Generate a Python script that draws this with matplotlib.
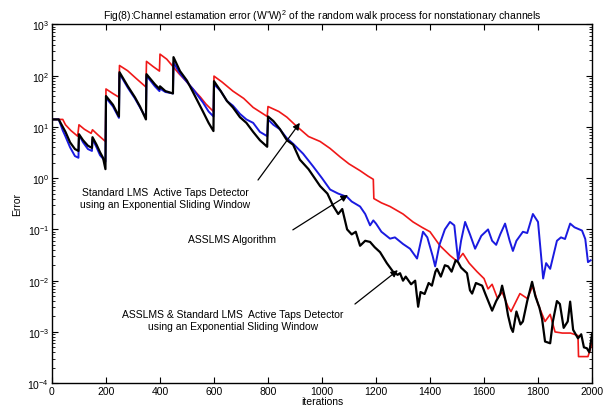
import numpy as np
import matplotlib.pyplot as plt
from matplotlib.ticker import LogLocator, NullFormatter

# Standard LMS active taps detector (exponential sliding window) - red
red_it = [0, 40, 50, 70, 95, 100, 120, 145, 150, 170, 198, 200, 225, 248, 250, 280, 310,
          348, 350, 375, 398, 400, 425, 448, 470, 495, 522, 550, 570, 598, 600, 630, 670,
          710, 745, 797, 800, 840, 870, 900, 918, 950, 993, 1030, 1067, 1100, 1141, 1170,
          1190, 1192, 1220, 1252, 1300, 1337, 1370, 1400, 1437, 1474, 1500, 1522, 1545,
          1574, 1600, 1615, 1630, 1650, 1667, 1689, 1700, 1733, 1760, 1781, 1800, 1826,
          1845, 1863, 1890, 1920, 1948, 1950, 1985, 2000]
red_err = [14, 14, 11, 8.5, 6.6, 11, 9, 7.5, 8.8, 7, 5.2, 55, 45, 38, 158, 125, 90,
           60, 190, 150, 123, 263, 210, 151, 110, 80, 55, 38, 28, 20, 98, 75, 50,
           36, 24, 16, 25, 20, 15.5, 11, 9.1, 6.5, 5.2, 3.8, 2.6, 1.9, 1.4, 1.1,
           0.95, 0.4, 0.33, 0.28, 0.2, 0.14, 0.11, 0.09, 0.048, 0.031, 0.024, 0.034, 0.022,
           0.015, 0.011, 0.0069, 0.0085, 0.0045, 0.006, 0.0031, 0.0025, 0.0056, 0.0045,
           0.0079, 0.0035, 0.0016, 0.0022, 0.001, 0.00095, 0.00095, 0.00085, 0.00033,
           0.00033, 0.0006]

# ASSLMS algorithm - blue
blue_it = [0, 25, 40, 50, 67, 85, 98, 100, 115, 133, 148, 150, 165, 178, 189, 198, 200,
           226, 248, 250, 281, 307, 326, 348, 350, 381, 398, 400, 420, 448, 450, 474, 500,
           522, 559, 580, 598, 600, 625, 648, 670, 696, 720, 745, 770, 797, 800, 820, 844,
           870, 893, 930, 967, 1000, 1030, 1060, 1093, 1110, 1141, 1160, 1178, 1190, 1200,
           1220, 1252, 1270, 1300, 1326, 1352, 1374, 1390, 1410, 1419, 1435, 1455, 1474,
           1490, 1504, 1515, 1530, 1548, 1567, 1590, 1615, 1630, 1645, 1660, 1678, 1695,
           1707, 1720, 1744, 1760, 1781, 1800, 1819, 1830, 1845, 1870, 1885, 1900, 1919,
           1935, 1963, 1975, 1985, 1995]
blue_err = [14, 14, 8.5, 6.5, 4, 2.7, 2.5, 7.0, 5, 3.7, 3.4, 5.8, 4.0, 2.8, 2.4, 2.1, 37,
            25, 15, 110, 58, 36, 24, 15, 100, 62, 50, 56, 48, 45, 180, 110, 75,
            55, 30, 20, 16, 68, 50, 32, 26, 18, 14, 12, 8, 6.6, 14, 11, 9,
            6, 4.7, 3, 1.7, 1.0, 0.6, 0.5, 0.43, 0.35, 0.28, 0.2, 0.12, 0.15, 0.13,
            0.09, 0.066, 0.07, 0.052, 0.042, 0.027, 0.09, 0.07, 0.03, 0.019, 0.05, 0.1, 0.14,
            0.12, 0.025, 0.06, 0.14, 0.08, 0.042, 0.075, 0.1, 0.06, 0.05, 0.08, 0.13, 0.06,
            0.038, 0.06, 0.09, 0.085, 0.2, 0.14, 0.011, 0.022, 0.017, 0.06, 0.07, 0.065, 0.13,
            0.11, 0.095, 0.065, 0.023, 0.025]

# ASSLMS & standard LMS active taps detector - black
black_it = [0, 25, 40, 50, 67, 85, 98, 100, 115, 133, 148, 150, 165, 178, 189, 198, 200,
            226, 248, 250, 281, 307, 326, 348, 350, 381, 398, 400, 420, 448, 450, 474, 500,
            522, 559, 580, 598, 600, 625, 648, 670, 696, 720, 745, 770, 797, 800, 820, 844,
            870, 893, 918, 950, 993, 1020, 1041, 1060, 1075, 1093, 1110, 1125, 1141, 1160,
            1178, 1195, 1215, 1240, 1263, 1280, 1289, 1300, 1310, 1330, 1345, 1356, 1365,
            1380, 1395, 1407, 1420, 1426, 1440, 1455, 1467, 1480, 1495, 1504, 1515, 1537,
            1548, 1556, 1570, 1593, 1605, 1620, 1630, 1645, 1660, 1667, 1680, 1689, 1700,
            1707, 1720, 1735, 1744, 1760, 1778, 1790, 1805, 1815, 1826, 1845, 1855, 1870,
            1881, 1895, 1910, 1919, 1930, 1948, 1960, 1970, 1981, 1990, 2000]
black_err = [14, 14, 10, 8, 5, 3.7, 3.4, 7.2, 5.5, 4.3, 3.9, 6.3, 4.5, 3.2, 2.5, 1.5, 40,
             27, 16, 117, 62, 38, 25, 14, 107, 68, 55, 62, 50, 45, 230, 123, 80,
             48, 20, 12, 8.3, 78, 50, 32, 24, 15.5, 12, 8, 5.5, 4.1, 16, 13, 9.1,
             5.5, 4.5, 2.3, 1.5, 0.7, 0.5, 0.29, 0.2, 0.25, 0.1, 0.08, 0.09, 0.048, 0.06,
             0.057, 0.045, 0.036, 0.022, 0.015, 0.013, 0.014, 0.01, 0.012, 0.0085, 0.01,
             0.0031, 0.006, 0.0055, 0.009, 0.008, 0.015, 0.017, 0.012, 0.02, 0.019, 0.015,
             0.025, 0.023, 0.018, 0.014, 0.0065, 0.0056, 0.009, 0.008, 0.0055, 0.0035, 0.0026,
             0.004, 0.0055, 0.008, 0.004, 0.0021, 0.0012, 0.001, 0.0025, 0.0014, 0.0016,
             0.004, 0.0095, 0.005, 0.003, 0.0018, 0.00065, 0.0006, 0.0016, 0.004, 0.0035,
             0.0012, 0.0016, 0.0039, 0.0011, 0.00075, 0.0009, 0.0005, 0.00048, 0.0004, 0.0009]

xticks = list(range(0, 2001, 200))

# annotation labels: (text, text position, arrow tail, arrow head)
labels = [
    ('Standard LMS  Active Taps Detector\nusing an Exponential Sliding Window',
     (419, 0.41), (763, 0.92), (918, 12)),
    ('ASSLMS Algorithm', (667, 0.066), (892, 0.098), (1096, 0.47)),
    ('ASSLMS & Standard LMS  Active Taps Detector\nusing an Exponential Sliding Window',
     (670, 0.0017), (1122, 0.0035), (1281, 0.016)),
]

plt.rcParams['font.family'] = ['Liberation Sans', 'DejaVu Sans']
plt.rcParams['mathtext.fontset'] = 'custom'
plt.rcParams['mathtext.rm'] = 'Liberation Sans'

fig = plt.figure(figsize=(6.03, 4.10), dpi=100)
ax = fig.add_axes([0.0862, 0.063, 0.8956, 0.875])

ax.semilogy(red_it, red_err, color='#f01818', lw=1.2)
ax.semilogy(blue_it, blue_err, color='#1a1ae0', lw=1.4)
ax.semilogy(black_it, black_err, color='black', lw=1.6)

ax.set_xlim(0, 2000)
ax.set_ylim(1e-4, 1e3)
ax.set_xticks(xticks)
ax.yaxis.set_major_locator(LogLocator(base=10, numticks=10))
ax.yaxis.set_minor_locator(LogLocator(base=10, subs=np.arange(2, 10), numticks=100))
ax.yaxis.set_minor_formatter(NullFormatter())
ax.tick_params(which='both', direction='in', top=True, right=True, labelsize=7.5, pad=2)
ax.tick_params(which='major', length=4)
ax.tick_params(which='minor', length=2)
for s in ax.spines.values():
    s.set_linewidth(1.0)

ax.set_xlabel('iterations', fontsize=7.5, labelpad=0)
ax.set_ylabel('Error', fontsize=7.5, labelpad=4)
ax.set_title("Fig(8):Channel estamation error (W'W)$^2$ of the random walk process for nonstationary channels",
             fontsize=7.5, pad=4)

arrow = dict(arrowstyle='-|>', color='black', lw=0.9, mutation_scale=10, shrinkA=0, shrinkB=0)
for txt, pos, tail, head in labels:
    ax.text(pos[0], pos[1], txt, fontsize=7.5, ha='center', va='center',
            multialignment='center')
    ax.annotate('', xy=head, xytext=tail, arrowprops=arrow, zorder=5)

fig.savefig('out.png', dpi=100)
